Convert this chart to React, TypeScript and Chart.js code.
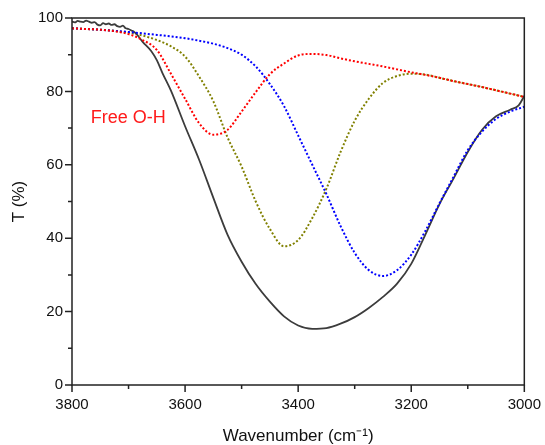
import React, { useEffect, useRef } from 'react';
import { Chart, registerables } from 'chart.js';

Chart.register(...registerables);

const FONT = "'Liberation Sans', Arial, Helvetica, sans-serif";

// Shared wavenumber grid for the fitted component curves (cm-1)
const gridW = [3800, 3775, 3750, 3725, 3700, 3675, 3650, 3625, 3600, 3575, 3550, 3525, 3500, 3475, 3450, 3425, 3400, 3375, 3350, 3325, 3300, 3275, 3250, 3225, 3200, 3175, 3150, 3125, 3100, 3075, 3050, 3025, 3000];

// Free O-H component (red dotted)
const freeOH = [97.2, 97.0, 96.8, 96.4, 95.6, 94.0, 91.3, 84.8, 78.0, 71.3, 68.2, 69.5, 74.5, 79.8, 84.7, 87.6, 89.8, 90.2, 89.9, 89.0, 88.2, 87.5, 86.8, 86.0, 85.2, 84.5, 83.7, 82.8, 82.0, 81.2, 80.3, 79.4, 78.5];

// Component 2 (olive dotted)
const comp2 = [97.2, 97.0, 96.8, 96.5, 96.0, 95.2, 94.0, 92.3, 89.5, 84.0, 77.3, 67.5, 59.5, 50.0, 42.5, 37.8, 39.5, 45.5, 53.5, 63.5, 72.0, 78.0, 82.3, 84.2, 84.8, 84.6, 83.7, 82.8, 82.0, 81.2, 80.3, 79.4, 78.5];

// Component 3 (blue dotted)
const comp3 = [97.2, 97.0, 96.8, 96.5, 96.2, 95.8, 95.4, 95.0, 94.5, 93.8, 93.0, 91.8, 90.0, 86.8, 82.0, 76.0, 68.0, 60.0, 52.0, 43.3, 36.0, 31.3, 29.7, 31.3, 35.5, 42.0, 49.5, 56.8, 64.0, 69.0, 72.5, 74.5, 75.8];

// Measured spectrum (dark solid)
const measuredW = [3800, 3795, 3790, 3785, 3780, 3775, 3770, 3765, 3760, 3755, 3750, 3745, 3740, 3735, 3730, 3725, 3720, 3715, 3710, 3705, 3700, 3695, 3690, 3685, 3680, 3675, 3660, 3650, 3640, 3625, 3600, 3575, 3550, 3525, 3500, 3475, 3450, 3425, 3400, 3375, 3350, 3325, 3300, 3275, 3250, 3225, 3200, 3175, 3150, 3125, 3100, 3075, 3050, 3025, 3010, 3000];
const measuredT = [99.0, 98.8, 99.2, 99.0, 98.9, 99.3, 99.0, 98.7, 98.9, 98.2, 98.0, 98.6, 98.3, 98.5, 98.1, 98.3, 97.8, 97.6, 97.9, 97.2, 97.0, 96.6, 96.2, 95.5, 94.5, 93.5, 91.0, 88.5, 85.0, 80.2, 70.5, 61.3, 51.0, 41.0, 33.6, 27.5, 22.7, 18.7, 16.2, 15.3, 15.5, 16.7, 18.5, 21.0, 24.0, 27.6, 33.0, 41.0, 49.3, 56.3, 63.5, 69.5, 73.2, 75.0, 76.2, 78.8];

// Axis ticks
const xTickValues = [3800, 3700, 3600, 3500, 3400, 3300, 3200, 3100, 3000];
const yTickValues = [0, 10, 20, 30, 40, 50, 60, 70, 80, 90, 100];

// Annotation
const annotationText = 'Free O-H';
const annotationW = 3767;
const annotationT = 72.7;

const toPoints = (xs: number[], ys: number[]) => xs.map((x, i) => ({ x, y: ys[i] }));

const framePlugin = {
  id: 'frame',
  afterDatasetsDraw(chart: any) {
    const { ctx, chartArea: a, scales } = chart;
    const xs = scales.x;
    const ys = scales.y;
    ctx.save();
    ctx.strokeStyle = '#222';
    ctx.lineWidth = 1.5;
    ctx.strokeRect(a.left, a.top, a.right - a.left, a.bottom - a.top);
    ctx.beginPath();
    for (const v of xTickValues) {
      const px = xs.getPixelForValue(v);
      const len = v % 200 === 0 ? 7 : 4;
      ctx.moveTo(px, a.bottom);
      ctx.lineTo(px, a.bottom + len);
    }
    for (const v of yTickValues) {
      const py = ys.getPixelForValue(v);
      const len = v % 20 === 0 ? 7 : 4;
      ctx.moveTo(a.left, py);
      ctx.lineTo(a.left - len, py);
    }
    ctx.stroke();
    ctx.fillStyle = '#ff1a1a';
    ctx.font = `18px ${FONT}`;
    ctx.textBaseline = 'middle';
    ctx.textAlign = 'left';
    ctx.fillText(annotationText, xs.getPixelForValue(annotationW), ys.getPixelForValue(annotationT));
    ctx.restore();
  },
};

export default function App() {
  const canvasRef = useRef<HTMLCanvasElement | null>(null);

  useEffect(() => {
    document.body.style.margin = '0';
    const canvas = canvasRef.current;
    if (!canvas) return;
    const dotted = {
      borderWidth: 2,
      borderDash: [2, 2],
      pointRadius: 0,
      cubicInterpolationMode: 'monotone' as const,
      fill: false,
    };
    const chart = new Chart(canvas, {
      type: 'line',
      data: {
        datasets: [
          { label: 'Free O-H', data: toPoints(gridW, freeOH), borderColor: '#ff0000', ...dotted },
          { label: 'Component 3', data: toPoints(gridW, comp3), borderColor: '#0000ff', ...dotted },
          {
            label: 'Measured',
            data: toPoints(measuredW, measuredT),
            borderColor: '#3c3c3c',
            borderWidth: 1.8,
            pointRadius: 0,
            cubicInterpolationMode: 'monotone',
            fill: false,
          },
          { label: 'Component 2', data: toPoints(gridW, comp2), borderColor: '#808000', ...dotted },
        ],
      },
      options: {
        animation: false,
        responsive: false,
        layout: { padding: { left: 0, top: 18, right: 18, bottom: 0 } },
        plugins: { legend: { display: false }, tooltip: { enabled: false } },
        scales: {
          x: {
            type: 'linear',
            reverse: true,
            min: 3000,
            max: 3800,
            afterFit: (s: any) => {
              s.height = 60;
            },
            grid: { drawOnChartArea: false, color: 'rgba(0,0,0,0)', tickLength: 7 },
            border: { display: false },
            ticks: {
              stepSize: 200,
              padding: 4,
              autoSkip: false,
              maxRotation: 0,
              color: '#111',
              font: { family: FONT, size: 15 },
              callback: (v: any) => String(v),
            },
            title: {
              display: true,
              text: 'Wavenumber (cm⁻¹)',
              color: '#111',
              font: { family: FONT, size: 17, lineHeight: 1 },
              padding: { top: 0, bottom: 0 },
            },
          },
          y: {
            type: 'linear',
            min: 0,
            max: 100,
            afterFit: (s: any) => {
              s.width = 72;
            },
            grid: { drawOnChartArea: false, color: 'rgba(0,0,0,0)', tickLength: 7 },
            border: { display: false },
            ticks: {
              stepSize: 20,
              padding: 2,
              color: '#111',
              font: { family: FONT, size: 15 },
              callback: (v: any) => String(v),
            },
            title: {
              display: true,
              text: 'T (%)',
              color: '#111',
              font: { family: FONT, size: 17, lineHeight: 1 },
              padding: { top: 11, bottom: 0 },
            },
          },
        },
      },
      plugins: [framePlugin],
    });
    return () => chart.destroy();
  }, []);

  return (
    <div style={{ width: 545, height: 445 }}>
      <canvas ref={canvasRef} width={545} height={445} style={{ display: 'block' }} />
    </div>
  );
}
